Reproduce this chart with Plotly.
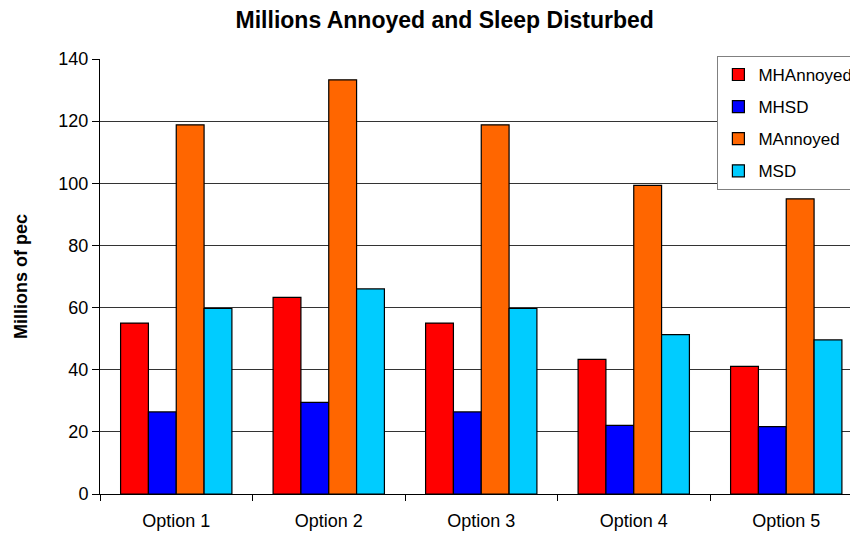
import plotly.graph_objects as go

categories = ["Option 1", "Option 2", "Option 3", "Option 4", "Option 5"]
mh_annoyed = [55.0, 63.3, 55.0, 43.3, 41.1]
mh_sd = [26.4, 29.5, 26.4, 22.1, 21.7]
m_annoyed = [118.8, 133.3, 118.8, 99.3, 95.0]
m_sd = [59.7, 66.0, 59.7, 51.3, 49.6]

series = [
    ("MHAnnoyed", mh_annoyed, "#FF0000"),
    ("MHSD", mh_sd, "#0000FF"),
    ("MAnnoyed", m_annoyed, "#FF6600"),
    ("MSD", m_sd, "#00CCFF"),
]

FONT = "Liberation Sans, Arial, sans-serif"

fig = go.Figure()
for name, vals, col in series:
    fig.add_trace(go.Bar(
        x=categories, y=vals, name=name, legendgroup=name,
        marker=dict(color=col, line=dict(color="#000000", width=1.2)),
    ))

fig.update_layout(
    width=858, height=538,
    paper_bgcolor="white", plot_bgcolor="white",
    margin=dict(l=92, r=0, t=51, b=52),
    barmode="group", bargap=0.27, bargroupgap=0,
    font=dict(family=FONT, size=17, color="#000000"),
    title=dict(text="<b>Millions Annoyed and Sleep Disturbed</b>",
               x=0.509, xanchor="center", y=0.978, yanchor="middle",
               font=dict(family=FONT, size=23, color="#000000")),
    legend=dict(x=0.806, y=1.007, xanchor="left", yanchor="top",
                bgcolor="white", bordercolor="#808080", borderwidth=1,
                font=dict(family=FONT, size=17, color="#000000"),
                itemwidth=30, tracegroupgap=7),
    showlegend=True,
)

fig.update_xaxes(
    range=[-0.5, -0.5 + 766 / 152.5],
    showline=True, linecolor="#000000", linewidth=1,
    ticks="outside", tickson="boundaries", ticklen=6, tickcolor="#000000",
    showgrid=False, tickfont=dict(family=FONT, size=18),
    ticklabelstandoff=10,
)
fig.update_yaxes(
    range=[0, 140], dtick=20,
    showline=True, linecolor="#000000", linewidth=1,
    ticks="outside", ticklen=7, tickcolor="#000000",
    showgrid=True, gridcolor="#333333", gridwidth=1,
    tickfont=dict(family=FONT, size=18),
    title=dict(text="<b>Millions of pec</b>", font=dict(family=FONT, size=18), standoff=26),
    zeroline=False,
)

fig.write_html("out.html")
